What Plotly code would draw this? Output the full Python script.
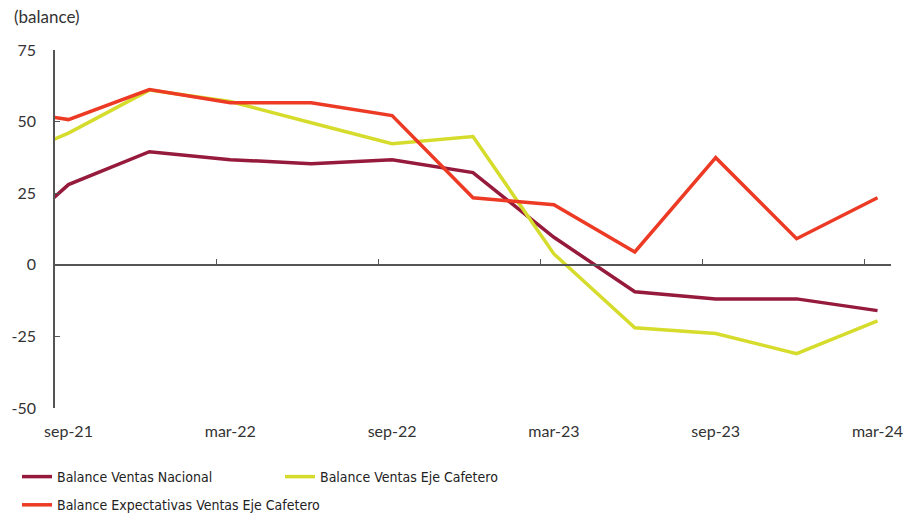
import plotly.graph_objects as go
import pandas as pd

# Quarterly observations (first one lies before the visible range and is clipped)
dates = ["2021-06", "2021-09", "2021-12", "2022-03", "2022-06", "2022-09", "2022-12",
         "2023-03", "2023-06", "2023-09", "2023-12", "2024-03"]
nacional = [3, 28, 39.5, 36.7, 35.3, 36.7, 32.2, 9.6, -9.4, -11.9, -11.9, -16]
ventas_eje = [34, 46, 61, 57, 49.6, 42.3, 44.8, 3.8, -22, -24, -31, -19.6]
expect_eje = [55, 50.7, 61.2, 56.6, 56.6, 52.1, 23.4, 21, 4.5, 37.4, 9.1, 23.4]

label_dates = ["2021-09", "2022-03", "2022-09", "2023-03", "2023-09", "2024-03"]
tick_labels = ["sep-21", "mar-22", "sep-22", "mar-23", "sep-23", "mar-24"]
y_ticks = [-50, -25, 0, 25, 50, 75]
y_tick_labels = ["-50", "-25", "0", "25", "50", "75"]

start = pd.Period("2021-09", "M")
def midx(s):
    return (pd.Period(s, "M") - start).n

xs = [midx(d) for d in dates]
tick_pos = [midx(d) for d in label_dates]
boundary_pos = [p - 0.5 for p in tick_pos[1:]]
x_range = [midx("2021-09") - 0.5, midx("2024-03") + 0.5]

FONT = "Lato, 'Open Sans', sans-serif"
LEG_FONT = "'DejaVu Sans Condensed', 'Liberation Sans Narrow', Roboto, sans-serif"

W, H = 907, 517

fig = go.Figure()
series = [
    ("Balance Ventas Nacional", nacional, "#961A3C", "legend", "a"),
    ("Balance Ventas Eje Cafetero", ventas_eje, "#D6DC2C", "legend2", "c"),
    ("Balance Expectativas Ventas Eje Cafetero", expect_eje, "#EC3A24", "legend", "b"),
]
for name, vals, col, leg, grp in series:
    fig.add_trace(go.Scatter(x=xs, y=vals, mode="lines", name=name, legend=leg,
                             legendgroup=grp, line=dict(color=col, width=3.5)))

leg_common = dict(orientation="v", xanchor="left", yanchor="top",
                  xref="container", yref="container",
                  font=dict(family=LEG_FONT, size=14, color="#222222"),
                  itemwidth=30, bgcolor="rgba(0,0,0,0)")

fig.update_layout(
    width=W, height=H,
    margin=dict(l=55, r=16, t=50, b=109, autoexpand=False),
    paper_bgcolor="white", plot_bgcolor="white",
    font=dict(family=FONT, size=16, color="#333333"),
    showlegend=True,
    legend=dict(x=17 / W, y=1 - 461 / H, tracegroupgap=7, traceorder="grouped",
                **leg_common),
    legend2=dict(x=280 / W, y=1 - 461 / H, **leg_common),
    annotations=[dict(text="(balance)", xref="paper", yref="paper", x=-0.052, y=1.06,
                      xanchor="left", yanchor="bottom", showarrow=False,
                      font=dict(family=FONT, size=17, color="#333333"))],
    xaxis=dict(range=x_range, tickvals=tick_pos, ticktext=tick_labels,
               showline=False, showgrid=False, zeroline=False, ticks="",
               ticklabelstandoff=12, automargin=False),
    xaxis2=dict(range=x_range, overlaying="x", anchor="free", position=0.4,
                side="bottom", showline=True, linecolor="#555555", linewidth=1.5,
                tickvals=boundary_pos, ticks="inside", ticklen=5, tickcolor="#555555",
                tickwidth=1.2, showticklabels=False, showgrid=False, zeroline=False),
    yaxis=dict(range=[-50, 75], tickvals=y_ticks, ticktext=y_tick_labels,
               showline=True, linecolor="#555555",
               linewidth=1.5, ticks="inside", ticklen=5, tickcolor="#555555",
               showgrid=False, zeroline=False, ticklabelstandoff=14, automargin=False),
)
# invisible helper trace so the zero-level axis is drawn
fig.add_trace(go.Scatter(x=[x_range[0]], y=[0], xaxis="x2", mode="markers",
                         marker=dict(opacity=0), showlegend=False, hoverinfo="skip"))

fig.write_html("out.html", config={"displayModeBar": False},
               post_script="document.body.style.margin='0px';document.body.style.overflow='hidden';")
